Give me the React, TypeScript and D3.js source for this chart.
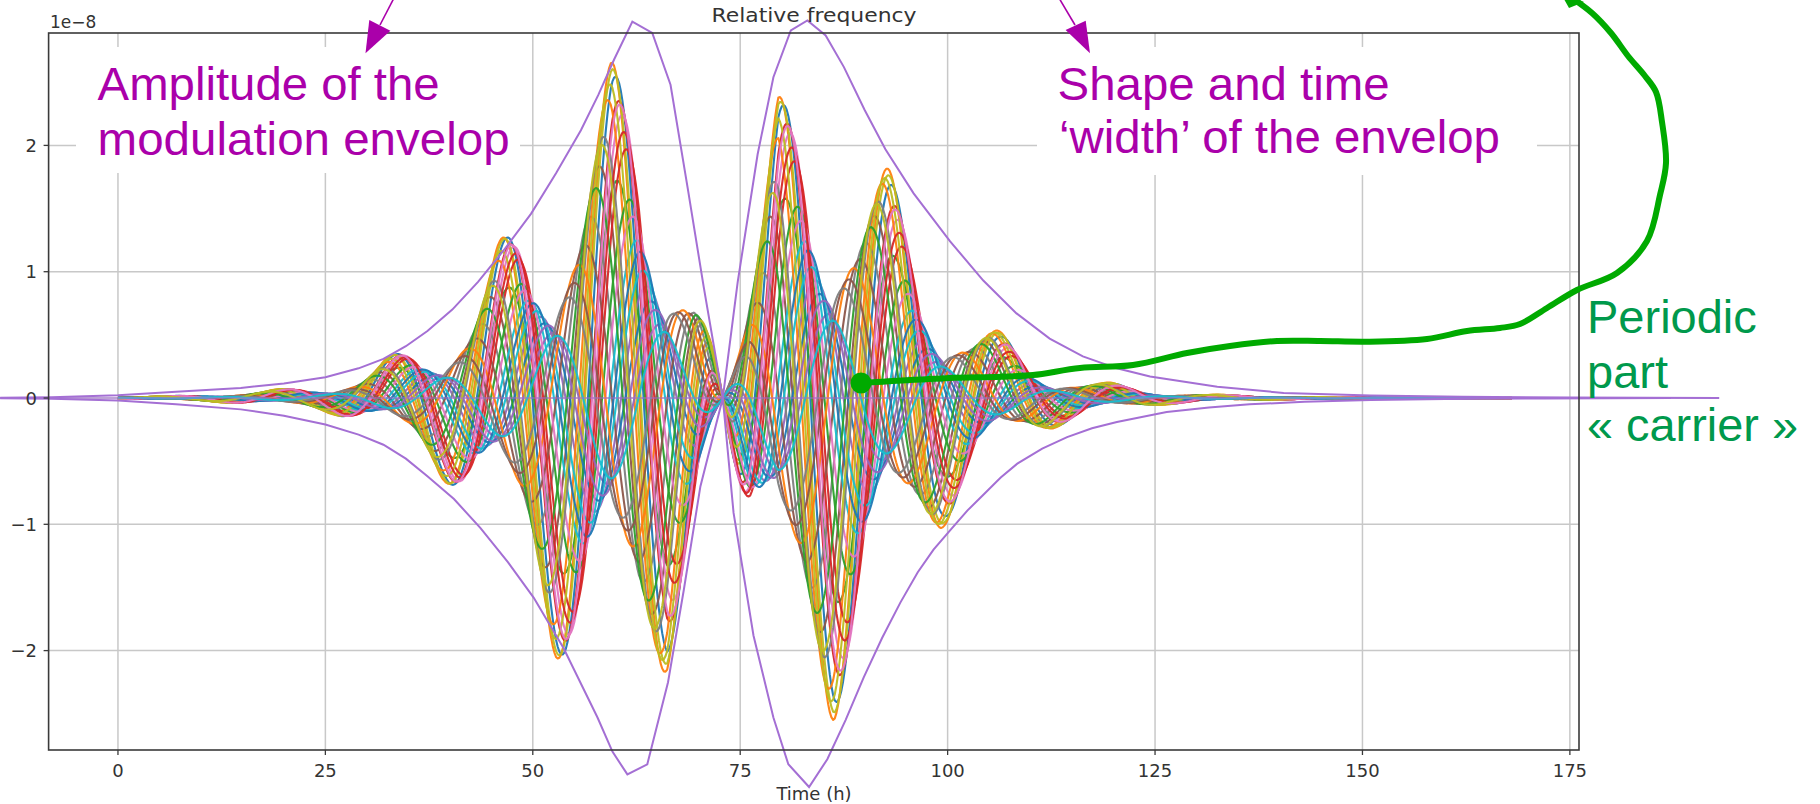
import React from 'react';
import * as d3 from 'd3';

// values in units of 1e-8, time in hours

// purple envelope, branch that starts above the axis on the left
const ENV_A_T = [-14.2, -8, 0, 7, 14.8, 20, 25, 29, 32, 34.7, 37.3, 40.3, 43.4, 46.5, 49.8, 52.8, 55.8, 57.9, 59.8, 62, 64.4, 66.6, 68.7, 70.6, 72.9, 74.2, 76.6, 79, 80.8, 83.3, 85.5, 87.7, 89.9, 92.1, 94.3, 96.4, 98.3, 100.4, 102.4, 104.4, 106.4, 108.4, 111.4, 114.4, 117.4, 120.4, 126.4, 131.5, 136.4, 143, 151, 160, 172, 187.2];
const ENV_A_V = [0.002, 0.006, 0.022, 0.05, 0.08, 0.115, 0.165, 0.235, 0.31, 0.41, 0.53, 0.7, 0.92, 1.17, 1.46, 1.78, 2.12, 2.4, 2.68, 2.98, 2.89, 2.48, 1.65, 0.88, 0, -0.91, -1.88, -2.53, -2.9, -3.08, -2.86, -2.55, -2.21, -1.9, -1.62, -1.38, -1.2, -1.04, -0.89, -0.76, -0.63, -0.52, -0.4, -0.31, -0.24, -0.19, -0.11, -0.075, -0.05, -0.03, -0.016, -0.008, -0.003, 0];

// purple envelope, branch that starts below the axis on the left
const ENV_B_T = [-14.2, -8, 0, 7, 14.8, 20, 25, 29, 32, 34.7, 37.3, 40.5, 43.7, 47, 50.1, 53.7, 57.8, 59.6, 61.4, 63.8, 66.3, 68.2, 70.2, 72.9, 74.7, 77.1, 79, 81.1, 83.1, 85.3, 87.5, 90, 92.5, 95.9, 100.3, 104.3, 108.3, 112.3, 116.3, 120.4, 124.4, 132.5, 140.5, 151, 162, 175, 193];
const ENV_B_V = [-0.002, -0.006, -0.02, -0.05, -0.09, -0.14, -0.21, -0.29, -0.37, -0.48, -0.62, -0.8, -1.03, -1.3, -1.58, -1.98, -2.53, -2.8, -2.98, -2.9, -2.25, -1.52, -0.7, 0, 0.92, 1.93, 2.54, 2.91, 2.99, 2.87, 2.62, 2.28, 1.97, 1.62, 1.24, 0.93, 0.67, 0.47, 0.33, 0.235, 0.17, 0.09, 0.04, 0.02, 0.01, 0.004, 0];

// modulation of the coloured curves (hull of the outer curve)
const MOD_T = [0, 6, 12.6, 19.3, 22.6, 26, 29.4, 32.7, 36, 39.4, 42.8, 46.1, 49.5, 52.8, 56.2, 59.5, 62.8, 66.2, 69.5, 72.9, 76.2, 79.6, 83, 86.3, 89.6, 93, 96.4, 99.7, 103, 106.4, 109.8, 113.1, 116.5, 119.8, 126.5, 133.2, 140, 150, 168];
const MOD_V = [0.008, 0.015, 0.035, 0.07, 0.09, 0.13, 0.21, 0.33, 0.47, 0.66, 0.92, 1.25, 1.62, 2.05, 2.42, 2.66, 2.6, 2.15, 1.25, 0, -1.35, -2.38, -2.6, -2.55, -2.2, -1.8, -1.38, -1.0, -0.72, -0.52, -0.35, -0.23, -0.16, -0.12, -0.05, -0.025, -0.012, -0.006, -0.002];

// carrier
const NODE_T = 72.9;
const CARRIER_PERIOD = 13.4;
const T_START = 0;
const T_END = 168;

// one entry per curve: carrier shift (h) and gain
const SHIFTS = [0.5, 0.0, 0.7, 0.9, 4.5, -1.6, 1.3, -2.6, 0.15, 3.1, 5.0, -0.6, 2.2, 1.8, 6.1, -3.3, 2.6, -1.1, -0.3, 4.0, 3.6, -4.1, -2.0, 1.5, 5.5, -4.7, 1.0, -5.3, -1.3, 6.6];
const GAINS = [0.96, 1.0, 0.65, 0.89, 0.36, 0.72, 0.85, 0.58, 0.98, 0.48, 0.32, 0.9, 0.6, 0.75, 0.26, 0.5, 0.55, 0.8, 0.94, 0.4, 0.45, 0.45, 0.66, 0.8, 0.3, 0.4, 0.88, 0.36, 0.78, 0.24];

const X_TICKS = [0, 25, 50, 75, 100, 125, 150, 175];
const Y_TICKS = [-2, -1, 0, 1, 2];

const W = 1820;
const H = 804;
const M = { left: 48.6, right: 1579, top: 33, bottom: 750 };

const AXIS_FONT = 'DejaVu Sans, sans-serif';
const NOTE_FONT = 'Liberation Sans, Arial, sans-serif';
const MAGENTA = '#aa00aa';
const GREEN_TEXT = '#00994c';
const GREEN_LINE = '#00aa00';
const ENV_COLOR = '#a46fd4';

// hand-drawn green stroke of the annotation (pixels)
const GREEN_STROKE: [number, number][] = [
  [861, 383], [883, 381.7], [950, 378], [1000, 376.7], [1033, 375], [1080, 368], [1133, 365],
  [1187, 353], [1230, 346], [1277, 341], [1320, 341], [1367, 341.7], [1427, 339], [1467, 331],
  [1500, 328], [1520, 324], [1547, 308], [1577, 290], [1617, 273], [1647, 241], [1660, 195],
  [1666, 163], [1662, 122], [1656, 92], [1645, 76], [1628, 56], [1611, 33], [1592, 13], [1572, -2],
];

const App = () => {
  const x = d3.scaleLinear().domain([-8.36, 176.1]).range([M.left, M.right]);
  const y = d3.scaleLinear().domain([-2.787, 2.89]).range([M.bottom, M.top]);

  const mod = d3.scaleLinear().domain(MOD_T).range(MOD_V);
  const ts = d3.range(T_START, T_END + 1e-9, 0.2);
  const series = SHIFTS.map((s, i) =>
    ts.map((t) => [t, GAINS[i] * mod(t) * Math.cos((2 * Math.PI * (t - NODE_T - s)) / CARRIER_PERIOD)] as [number, number])
  );

  const line = d3.line<[number, number]>()
    .x((d) => x(d[0]))
    .y((d) => y(d[1]));

  const envA = ENV_A_T.map((t, i) => [t, ENV_A_V[i]] as [number, number]);
  const envB = ENV_B_T.map((t, i) => [t, ENV_B_V[i]] as [number, number]);

  const green = d3.line().curve(d3.curveCatmullRom)(GREEN_STROKE) || '';
  const colors = d3.schemeCategory10;

  return (
    <svg width={W} height={H} style={{ position: 'absolute', left: 0, top: 0, background: '#fff' }}>
      <rect x={0} y={0} width={W} height={H} fill="#fff" />

      {/* grid */}
      <g stroke="#c8c8c8" strokeWidth={1.5}>
        {X_TICKS.map((t) => (
          <line key={'gx' + t} x1={x(t)} x2={x(t)} y1={M.top} y2={M.bottom} />
        ))}
        {Y_TICKS.map((v) => (
          <line key={'gy' + v} x1={M.left} x2={M.right} y1={y(v)} y2={y(v)} />
        ))}
      </g>

      {/* white boxes behind the notes */}
      <rect x={76} y={47} width={444} height={126} fill="#fff" />
      <rect x={1037} y={47} width={500} height={128} fill="#fff" />

      {/* coloured curves */}
      <g fill="none" strokeWidth={2.1} strokeOpacity={0.95} strokeLinejoin="round">
        {series.map((s, i) => (
          <path key={'s' + i} d={line(s) || ''} stroke={colors[i % 10]} />
        ))}
      </g>

      {/* envelope and zero line */}
      <g fill="none" stroke={ENV_COLOR} strokeWidth={2}>
        <line x1={0} x2={1719} y1={y(0)} y2={y(0)} strokeWidth={1.2} />
        <path d={line(envA) || ''} />
        <path d={line(envB) || ''} />
      </g>

      {/* frame */}
      <rect x={M.left} y={M.top} width={M.right - M.left} height={M.bottom - M.top} fill="none" stroke="#3a3a3a" strokeWidth={1.6} />

      {/* ticks and labels */}
      <g stroke="#3a3a3a" strokeWidth={1.3}>
        {X_TICKS.map((t) => (
          <line key={'tx' + t} x1={x(t)} x2={x(t)} y1={M.bottom} y2={M.bottom + 5} />
        ))}
        {Y_TICKS.map((v) => (
          <line key={'ty' + v} x1={M.left - 5} x2={M.left} y1={y(v)} y2={y(v)} />
        ))}
      </g>
      <g fontFamily={AXIS_FONT} fontSize={18} fill="#333">
        {X_TICKS.map((t) => (
          <text key={'lx' + t} x={x(t)} y={777} textAnchor="middle">{t}</text>
        ))}
        {Y_TICKS.map((v) => (
          <text key={'ly' + v} x={37} y={y(v)} textAnchor="end" dominantBaseline="central">
            {v < 0 ? '\u2212' + Math.abs(v) : String(v)}
          </text>
        ))}
        <text x={50} y={28} fontSize={17}>1e{'\u2212'}8</text>
        <text x={814} y={800} textAnchor="middle">Time (h)</text>
        <text x={814} y={22} textAnchor="middle" fontSize={20} textLength={205} lengthAdjust="spacingAndGlyphs">Relative frequency</text>
      </g>

      {/* magenta notes */}
      <g fontFamily={NOTE_FONT} fontSize={47} fill={MAGENTA}>
        <text x={97.6} y={100} textLength={342} lengthAdjust="spacingAndGlyphs">Amplitude of the</text>
        <text x={97.6} y={155} textLength={412} lengthAdjust="spacingAndGlyphs">modulation envelop</text>
        <text x={1057.6} y={100} textLength={332} lengthAdjust="spacingAndGlyphs">Shape and time</text>
        <text x={1059} y={153} textLength={441} lengthAdjust="spacingAndGlyphs">{'\u2018width\u2019 of the envelop'}</text>
      </g>
      <g stroke={MAGENTA} strokeWidth={1.6} fill={MAGENTA}>
        <line x1={394} y1={-2} x2={380} y2={25} />
        <polygon points="365.5,53.3 369.3,20 390.4,30.7" stroke="none" />
        <line x1={1059} y1={-2} x2={1075} y2={25} />
        <polygon points="1090,53.3 1065.6,30 1085.7,20.7" stroke="none" />
      </g>

      {/* green notes */}
      <path d={green} fill="none" stroke={GREEN_LINE} strokeWidth={6} strokeLinecap="round" strokeLinejoin="round" />
      <circle cx={861} cy={383} r={10.5} fill={GREEN_LINE} />
      <polygon points="1560,-8 1584,2 1569,8" fill={GREEN_LINE} />
      <g fontFamily={NOTE_FONT} fontSize={47} fill={GREEN_TEXT}>
        <text x={1587} y={333}>Periodic</text>
        <text x={1587} y={388}>part</text>
        <text x={1587} y={440.7} textLength={211} lengthAdjust="spacingAndGlyphs">{'\u00ab carrier \u00bb'}</text>
      </g>
    </svg>
  );
};

export default App;
